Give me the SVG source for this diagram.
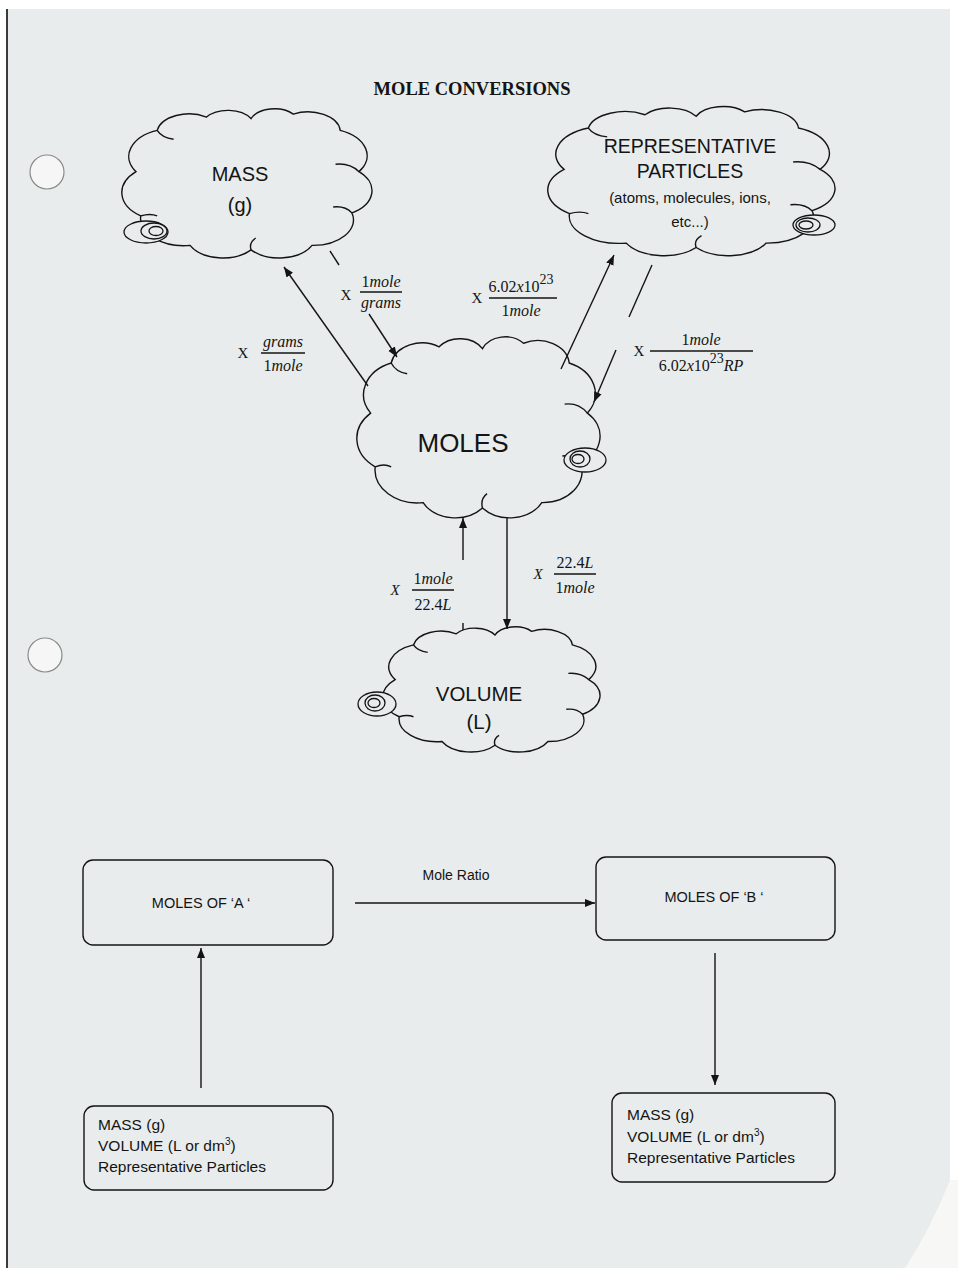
<svg xmlns="http://www.w3.org/2000/svg" xmlns:xlink="http://www.w3.org/1999/xlink" width="958" height="1268" viewBox="0 0 958 1268">
<style>
.ln{stroke:#141414;stroke-width:1.4;fill:none}
.cl{fill:#e9ecec;stroke:#141414;stroke-width:1.4;vector-effect:non-scaling-stroke}
.cu{fill:none;stroke:#141414;stroke-width:1.4;vector-effect:non-scaling-stroke}
.tl{fill:#e9ecec;stroke:#141414;stroke-width:1.3}
.ct{font-family:"Liberation Sans","DejaVu Sans",sans-serif;fill:#141414;text-anchor:middle}
.bt{font-family:"Liberation Sans","DejaVu Sans",sans-serif;fill:#141414;font-size:15.5px}
.m{font-family:"Liberation Serif","DejaVu Serif",serif;fill:#141414;font-size:16px;text-anchor:middle}
.mx{font-family:"Liberation Serif","DejaVu Serif",serif;fill:#141414;font-size:15px;text-anchor:middle}
.box{fill:none;stroke:#141414;stroke-width:1.4}
</style>
<defs>
<marker id="ah" markerUnits="userSpaceOnUse" markerWidth="11" markerHeight="9" refX="10" refY="4" orient="auto">
<path d="M0,0 L10,4 L0,8 Z" fill="#141414"/>
</marker>
<g id="cloud">
<path class="cl" d="M3 42 A18.9 18.9 0 0 1 12 14 A13.8 13.8 0 0 1 33 5 A11.5 11.5 0 0 1 52 6 A10.8 10.8 0 0 1 70 3 A13.8 13.8 0 0 1 90 14 A18.6 18.6 0 0 1 98 42 A17.7 17.7 0 0 1 95 70 A17.3 17.3 0 0 1 78 92 A15.8 15.8 0 0 1 52 95 A15.8 15.8 0 0 1 26 92 A18.5 18.5 0 0 1 5 72 A19.6 19.6 0 0 1 3 42 Z"/>
<path class="cu" d="M98 42 Q94 36 88 37 M52 95 Q51 90 54 87 M12 14 Q14 19 19 20 M95 70 Q92 65 87 66 M5 72 Q9 70 12 72"/>
</g>
</defs>
<rect x="0" y="0" width="958" height="1268" fill="#ffffff"/>
<rect x="7" y="9" width="943" height="1259" fill="#e9ecec"/>
<path d="M950 1180 Q930 1230 905 1268 L958 1268 L958 1180 Z" fill="#f7f7f5"/>
<line x1="7" y1="9" x2="7" y2="1268" stroke="#3a3a3a" stroke-width="2"/>
<circle cx="47" cy="172" r="17" fill="#f5f6f5" stroke="#8a8a8a" stroke-width="1.2"/>
<circle cx="45" cy="655" r="17" fill="#f5f6f5" stroke="#8a8a8a" stroke-width="1.2"/>

<text x="472" y="95" font-family="Liberation Serif,'DejaVu Serif',serif" font-weight="bold" font-size="18.5" text-anchor="middle" fill="#141414">MOLE CONVERSIONS</text>

<g id="node-mass">
<use xlink:href="#cloud" href="#cloud" transform="translate(129,109.7) scale(2.347,1.475)"/>
<ellipse class="tl" cx="146" cy="232" rx="22" ry="11"/>
<ellipse class="tl" cx="154" cy="231" rx="13" ry="8"/>
<ellipse class="tl" cx="156" cy="231" rx="7" ry="4.5"/>
<text class="ct" x="240" y="181" font-size="20">MASS</text>
<text class="ct" x="240" y="212" font-size="20">(g)</text>
</g>

<g id="node-rep">
<use xlink:href="#cloud" href="#cloud" transform="translate(556,107.4) scale(2.695,1.475)"/>
<ellipse class="tl" cx="814" cy="225" rx="21" ry="10"/>
<ellipse class="tl" cx="808" cy="225" rx="12" ry="7"/>
<ellipse class="tl" cx="806" cy="225" rx="7" ry="4"/>
<text class="ct" x="690" y="153" font-size="19.5">REPRESENTATIVE</text>
<text class="ct" x="690" y="178" font-size="19.5">PARTICLES</text>
<text class="ct" x="690" y="203" font-size="15">(atoms, molecules, ions,</text>
<text class="ct" x="690" y="227" font-size="15">etc...)</text>
</g>

<g id="node-moles">
<use xlink:href="#cloud" href="#cloud" transform="translate(363.8,337.9) scale(2.282,1.79)"/>
<ellipse class="tl" cx="585" cy="460" rx="21" ry="12"/>
<ellipse class="tl" cx="580" cy="459" rx="10" ry="8"/>
<ellipse class="tl" cx="578" cy="459" rx="6" ry="4.5"/>
<text class="ct" x="463" y="452" font-size="26">MOLES</text>
</g>

<g id="node-volume">
<use xlink:href="#cloud" href="#cloud" transform="translate(389,627.6) scale(2.038,1.238)"/>
<ellipse class="tl" cx="377" cy="704" rx="19" ry="12"/>
<ellipse class="tl" cx="375" cy="703" rx="10" ry="8"/>
<ellipse class="tl" cx="374" cy="703" rx="6" ry="4.5"/>
<text class="ct" x="479" y="701" font-size="20.5">VOLUME</text>
<text class="ct" x="479" y="729" font-size="20.5">(L)</text>
</g>

<g id="node-moles-a">
<rect class="box" x="83" y="860" width="250" height="85" rx="10"/>
<text class="ct" x="201" y="908" font-size="14.5">MOLES OF ‘A ‘</text>
</g>
<g id="node-moles-b">
<rect class="box" x="596" y="857" width="239" height="83" rx="10"/>
<text class="ct" x="714" y="902" font-size="14.5">MOLES OF ‘B ‘</text>
</g>
<g id="node-start">
<rect class="box" x="84" y="1106" width="249" height="84" rx="10"/>
<text class="bt" x="98" y="1130">MASS (g)</text>
<text class="bt" x="98" y="1151">VOLUME (L or dm<tspan font-size="10" dy="-6">3</tspan><tspan dy="6">)</tspan></text>
<text class="bt" x="98" y="1172">Representative Particles</text>
</g>
<g id="node-end">
<rect class="box" x="612" y="1093" width="223" height="89" rx="10"/>
<text class="bt" x="627" y="1120">MASS (g)</text>
<text class="bt" x="627" y="1142">VOLUME (L or dm<tspan font-size="10" dy="-6">3</tspan><tspan dy="6">)</tspan></text>
<text class="bt" x="627" y="1163">Representative Particles</text>
</g>

<g id="connectors">
<line class="ln" x1="368" y1="386" x2="284" y2="267" marker-end="url(#ah)"/>
<line class="ln" x1="330" y1="251" x2="339" y2="265"/>
<line class="ln" x1="369" y1="314" x2="397" y2="357" marker-end="url(#ah)"/>
<line class="ln" x1="561" y1="369" x2="614" y2="255" marker-end="url(#ah)"/>
<line class="ln" x1="652" y1="265" x2="629" y2="317"/>
<line class="ln" x1="616" y1="350" x2="594" y2="402" marker-end="url(#ah)"/>
<line class="ln" x1="507" y1="517" x2="507" y2="629" marker-end="url(#ah)"/>
<line class="ln" x1="463" y1="560" x2="463" y2="518" marker-end="url(#ah)"/>
<line class="ln" x1="463" y1="623" x2="463" y2="630"/>
<line class="ln" x1="355" y1="903" x2="595" y2="903" marker-end="url(#ah)"/>
<line class="ln" x1="201" y1="1088" x2="201" y2="948" marker-end="url(#ah)"/>
<line class="ln" x1="715" y1="953" x2="715" y2="1085" marker-end="url(#ah)"/>
</g>

<g id="labels">
<text class="mx" x="346" y="300">X</text>
<text class="m" x="381" y="287">1<tspan font-style="italic">mole</tspan></text>
<line class="ln" x1="360" y1="292" x2="402" y2="292" stroke-width="1"/>
<text class="m" x="381" y="308" font-style="italic">grams</text>

<text class="mx" x="243" y="358">X</text>
<text class="m" x="283" y="347" font-style="italic">grams</text>
<line class="ln" x1="261" y1="353" x2="305" y2="353" stroke-width="1"/>
<text class="m" x="283" y="371">1<tspan font-style="italic">mole</tspan></text>

<text class="mx" x="477" y="303">X</text>
<text class="m" x="521" y="292">6.02<tspan font-style="italic">x</tspan>10<tspan font-size="14" dy="-8">23</tspan></text>
<line class="ln" x1="489" y1="298" x2="557" y2="298" stroke-width="1"/>
<text class="m" x="521" y="316">1<tspan font-style="italic">mole</tspan></text>

<text class="mx" x="639" y="356">X</text>
<text class="m" x="701" y="345">1<tspan font-style="italic">mole</tspan></text>
<line class="ln" x1="650" y1="351" x2="753" y2="351" stroke-width="1"/>
<text class="m" x="701" y="371">6.02<tspan font-style="italic">x</tspan>10<tspan font-size="14" dy="-8">23</tspan><tspan font-style="italic" dy="8">RP</tspan></text>

<text class="mx" x="395" y="595" font-style="italic">X</text>
<text class="m" x="433" y="584">1<tspan font-style="italic">mole</tspan></text>
<line class="ln" x1="412" y1="590" x2="454" y2="590" stroke-width="1"/>
<text class="m" x="433" y="610">22.4<tspan font-style="italic">L</tspan></text>

<text class="mx" x="538" y="579" font-style="italic">X</text>
<text class="m" x="575" y="568">22.4<tspan font-style="italic">L</tspan></text>
<line class="ln" x1="554" y1="574" x2="596" y2="574" stroke-width="1"/>
<text class="m" x="575" y="593">1<tspan font-style="italic">mole</tspan></text>

<text class="ct" x="456" y="880" font-size="14">Mole Ratio</text>
</g>
</svg>
